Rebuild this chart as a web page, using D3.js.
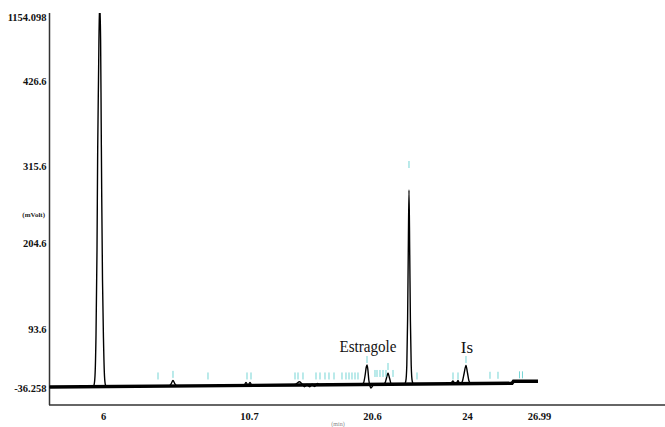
<!DOCTYPE html>
<html><head><meta charset="utf-8">
<script src="https://cdn.jsdelivr.net/npm/d3@7"></script>
<style>html,body{margin:0;padding:0;background:#fff;overflow:hidden}</style>
</head><body>
<svg id="chart" width="665" height="427"></svg>
<script>
// ---- data ----
const xTicks = [6, 10.7, 20.6, 24, 26.99];
const yTicks = [-36.258, 93.6, 204.6, 315.6, 426.6, 1154.098];
const yUnit = "(mVolt)";
const xUnit = "(min)";

const retTime = [4.262, 5.662, 5.710, 5.742, 5.775, 5.807, 5.829, 5.855, 5.891, 5.923, 5.942, 5.958, 5.984, 6.016, 6.048, 6.080, 6.129,
  8.125, 8.189, 8.253, 8.318, 8.382,
  10.539, 10.603, 10.668, 10.780, 10.941,
  14.242, 14.483, 14.765, 15.006, 15.167, 15.368, 15.570, 15.771, 15.972, 16.213, 16.455,
  19.715, 19.916, 20.037, 20.141, 20.198, 20.262, 20.343, 20.439, 20.520, 20.618, 20.672,
  20.994, 21.065, 21.119, 21.173, 21.226, 21.280, 21.352,
  21.763, 21.810, 21.846, 21.874, 21.899, 21.924, 21.949, 21.974, 22.003, 22.039, 22.085,
  23.356, 23.427, 23.499, 23.571, 23.624, 23.678, 23.732,
  23.767, 23.839, 23.893, 23.964, 24.021, 24.083, 24.166,
  25.869, 25.931, 26.948];
const signal = [-34.06, -33.18, -29.66, -9.85, 80.39, 195.57, 336.49, 437.97, 1347.3, 892.65, 371.75, 276.68, 156.84, 69.39, -9.85, -29.66, -33.18,
  -31.86, -27.45, -19.75, -27.45, -31.86,
  -30.76, -24.15, -29.66, -24.15, -30.53,
  -30.32, -27.45, -22.61, -28.55, -33.62, -28.55, -33.62, -28.11, -32.96, -26.35, -30.32,
  -28.77, -25.25, -9.85, 9.96, 14.36, 5.56, -18.65, -31.86, -36.26, -31.86, -28.55,
  -28.33, -25.25, -14.25, -3.24, -14.25, -26.35, -28.11,
  -27.67, -20.85, 14.36, 105.22, 195.57, 281.0, 195.57, 105.22, 14.36, -20.85, -27.45,
  -27.01, -25.25, -20.85, -26.35, -25.25, -19.75, -26.35,
  -26.79, -20.85, -5.44, 13.26, -3.24, -20.85, -26.79,
  -25.91, -21.51, -21.51];

const baseTime = [4.262, 14.805, 25.869, 25.931, 26.948];
const baseSignal = [-34.06, -29.66, -25.91, -21.51, -21.51];

const markerTime = [7.771, 8.253, 9.380, 10.636, 10.861,
  14.403, 14.644, 15.046, 16.093, 16.415, 16.817, 17.139, 17.542, 18.185, 18.507, 18.749, 18.990, 19.232, 19.473,
  20.198, 20.707, 20.779, 20.886, 20.994, 21.101, 21.173, 21.352,
  21.924, 22.211, 23.499, 23.678, 23.964, 24.955, 25.287, 26.180, 26.304];
const markerLevel = [-17.5, -14, -17.5, -17.5, -17.5,
  -17.5, -17.5, -17.5, -17.5, -17.5, -17.5, -17.5, -17.5, -17.5, -17.5, -17.5, -17.5, -17.5, -17.5,
  18.8, -12, -12, -12, -12, -12, 3.4, -12,
  312.7, -17.5, -17.5, -17.5, 18.8, -16, -16, -15, -15];

const peakNames = ["Estragole", "Is"];
const peakTimes = [20.198, 23.964];
const peakHeights = [14.36, 13.26];

// ---- drawing ----
const svg = d3.select("#chart");
const x = d3.scaleLinear().domain(xTicks).range([103, 249, 372, 467, 539]);
const y = d3.scaleLinear().domain(yTicks).range([388, 329, 243, 166, 81, 17]);

svg.append("defs").append("clipPath").attr("id", "plotclip")
  .append("rect").attr("x", 49.5).attr("y", 13).attr("width", 616).attr("height", 392);

// frame
svg.append("line").attr("x1", 49.5).attr("x2", 49.5).attr("y1", 13).attr("y2", 405)
  .attr("stroke", "#333").attr("stroke-width", 1.5);
svg.append("line").attr("x1", 49).attr("x2", 665).attr("y1", 405).attr("y2", 405)
  .attr("stroke", "#333").attr("stroke-width", 1.5);

// axes
const gx = svg.append("g").attr("transform", "translate(0,405)")
  .call(d3.axisBottom(x).tickValues(xTicks).tickSize(0).tickPadding(8).tickFormat(d => String(d)));
gx.select(".domain").remove();
gx.attr("font-family", "Liberation Serif").attr("font-size", 10.5).attr("font-weight", "bold");
gx.selectAll("text").attr("fill", "#111");

const gy = svg.append("g").attr("transform", "translate(49.5,0)")
  .call(d3.axisLeft(y).tickValues(yTicks).tickSize(0).tickPadding(3).tickFormat(d => String(d)));
gy.select(".domain").remove();
gy.attr("font-family", "Liberation Serif").attr("font-size", 10.5).attr("font-weight", "bold");
gy.selectAll("text").attr("fill", "#111");

svg.append("text").attr("x", 45).attr("y", 217).attr("text-anchor", "end")
  .attr("font-family", "Liberation Serif").attr("font-weight", "bold").attr("font-size", 7)
  .attr("fill", "#222").text(yUnit);
svg.append("text").attr("x", 338).attr("y", 425.5).attr("text-anchor", "middle")
  .attr("font-family", "Liberation Serif").attr("font-size", 6)
  .attr("fill", "#888").text(xUnit);

const plot = svg.append("g").attr("clip-path", "url(#plotclip)");

// baseline (thick)
plot.append("path")
  .datum(d3.zip(baseTime, baseSignal))
  .attr("d", d3.line().x(d => x(d[0])).y(d => y(d[1])))
  .attr("fill", "none").attr("stroke", "#000").attr("stroke-width", 3.4);

// signal trace
plot.append("path")
  .datum(d3.zip(retTime, signal))
  .attr("d", d3.line().x(d => x(d[0])).y(d => y(d[1])).curve(d3.curveMonotoneX))
  .attr("fill", "none").attr("stroke", "#000").attr("stroke-width", 1.4)
  .attr("stroke-linejoin", "round");

// integration markers
plot.selectAll("line.mk").data(d3.zip(markerTime, markerLevel)).join("line")
  .attr("class", "mk")
  .attr("x1", d => x(d[0])).attr("x2", d => x(d[0]))
  .attr("y1", d => y(d[1])).attr("y2", d => y(d[1]) - 7)
  .attr("stroke", "#5fcfcf").attr("stroke-width", 1).attr("opacity", 0.85);

// peak labels
svg.selectAll("text.pk").data(d3.zip(peakNames, peakTimes, peakHeights)).join("text")
  .attr("class", "pk")
  .attr("x", d => x(d[1]) + 1)
  .attr("y", d => y(d[2]) - 13)
  .attr("text-anchor", "middle")
  .attr("font-family", "Liberation Serif").attr("font-size", 17).attr("fill", "#111")
  .each(function (d) {
    if (d[0].length > 2) d3.select(this).attr("textLength", 57).attr("lengthAdjust", "spacingAndGlyphs");
  })
  .text(d => d[0]);
</script>
</body></html>
